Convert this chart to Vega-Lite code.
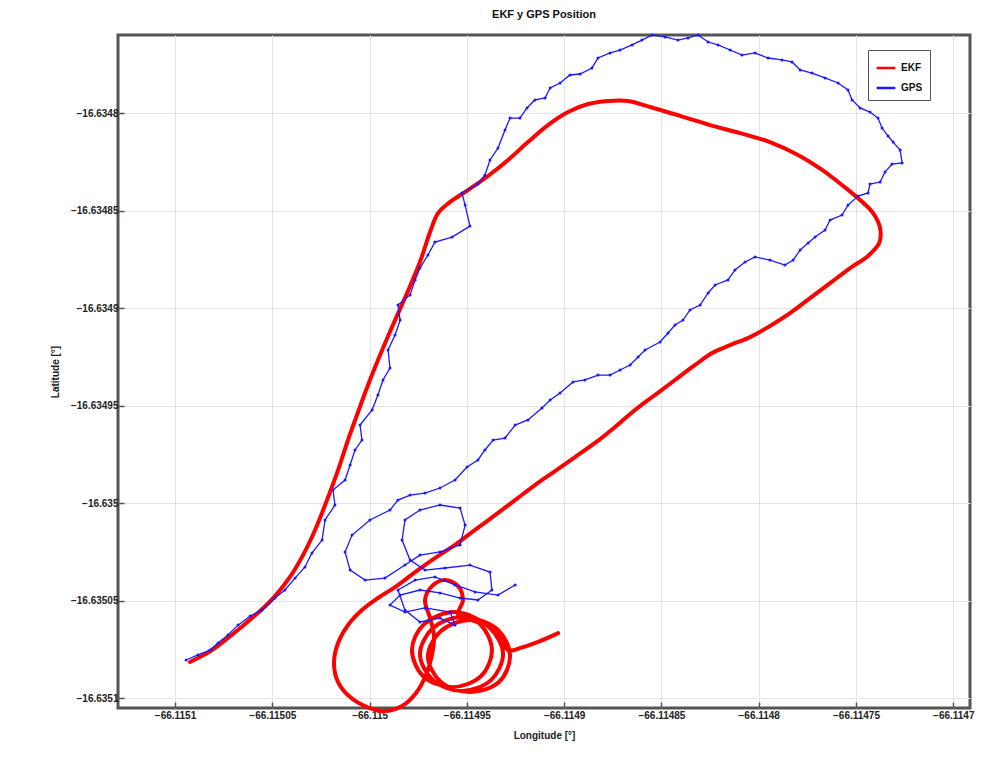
{
  "$schema": "https://vega.github.io/schema/vega-lite/v6.json",
  "width": 852,
  "height": 673,
  "autosize": "none",
  "padding": {"left": 118, "top": 35, "right": 21, "bottom": 63},
  "background": "white",
  "title": {"text": "EKF y GPS Position", "fontSize": 11, "font": "Liberation Sans", "fontWeight": "bold", "color": "#111", "offset": 12},
  "config": {
    "view": {"stroke": "#555", "strokeWidth": 3},
    "axis": {"domain": false, "gridColor": "#e3e3e3", "gridWidth": 1, "tickColor": "#555", "tickSize": -6, "tickWidth": 1.5,
      "labelFont": "Liberation Sans", "labelFontSize": 10, "labelFontWeight": "bold", "labelColor": "#222",
      "titleFont": "Liberation Sans", "titleFontSize": 10, "titleFontWeight": "bold", "titleColor": "#222"}
  },
  "data": {"values": [
    {"s":"EKF","i":1,"lon":-66.1150923,"lat":-16.6350815},
    {"s":"EKF","i":2,"lon":-66.1150872,"lat":-16.6350790},
    {"s":"EKF","i":3,"lon":-66.1150810,"lat":-16.6350754},
    {"s":"EKF","i":4,"lon":-66.1150728,"lat":-16.6350692},
    {"s":"EKF","i":5,"lon":-66.1150640,"lat":-16.6350620},
    {"s":"EKF","i":6,"lon":-66.1150563,"lat":-16.6350554},
    {"s":"EKF","i":7,"lon":-66.1150486,"lat":-16.6350477},
    {"s":"EKF","i":8,"lon":-66.1150409,"lat":-16.6350379},
    {"s":"EKF","i":9,"lon":-66.1150342,"lat":-16.6350267},
    {"s":"EKF","i":10,"lon":-66.1150280,"lat":-16.6350138},
    {"s":"EKF","i":11,"lon":-66.1150219,"lat":-16.6349985},
    {"s":"EKF","i":12,"lon":-66.1150162,"lat":-16.6349831},
    {"s":"EKF","i":13,"lon":-66.1150111,"lat":-16.6349677},
    {"s":"EKF","i":14,"lon":-66.1150059,"lat":-16.6349533},
    {"s":"EKF","i":15,"lon":-66.1150008,"lat":-16.6349395},
    {"s":"EKF","i":16,"lon":-66.1149946,"lat":-16.6349241},
    {"s":"EKF","i":17,"lon":-66.1149880,"lat":-16.6349087},
    {"s":"EKF","i":18,"lon":-66.1149807,"lat":-16.6348923},
    {"s":"EKF","i":19,"lon":-66.1149741,"lat":-16.6348764},
    {"s":"EKF","i":20,"lon":-66.1149689,"lat":-16.6348610},
    {"s":"EKF","i":21,"lon":-66.1149648,"lat":-16.6348513},
    {"s":"EKF","i":22,"lon":-66.1149586,"lat":-16.6348456},
    {"s":"EKF","i":23,"lon":-66.1149494,"lat":-16.6348395},
    {"s":"EKF","i":24,"lon":-66.1149391,"lat":-16.6348323},
    {"s":"EKF","i":25,"lon":-66.1149288,"lat":-16.6348241},
    {"s":"EKF","i":26,"lon":-66.1149186,"lat":-16.6348149},
    {"s":"EKF","i":27,"lon":-66.1149083,"lat":-16.6348062},
    {"s":"EKF","i":28,"lon":-66.1148980,"lat":-16.6347995},
    {"s":"EKF","i":29,"lon":-66.1148877,"lat":-16.6347954},
    {"s":"EKF","i":30,"lon":-66.1148774,"lat":-16.6347938},
    {"s":"EKF","i":31,"lon":-66.1148672,"lat":-16.6347938},
    {"s":"EKF","i":32,"lon":-66.1148558,"lat":-16.6347969},
    {"s":"EKF","i":33,"lon":-66.1148404,"lat":-16.6348015},
    {"s":"EKF","i":34,"lon":-66.1148250,"lat":-16.6348062},
    {"s":"EKF","i":35,"lon":-66.1148096,"lat":-16.6348103},
    {"s":"EKF","i":36,"lon":-66.1147942,"lat":-16.6348149},
    {"s":"EKF","i":37,"lon":-66.1147798,"lat":-16.6348215},
    {"s":"EKF","i":38,"lon":-66.1147674,"lat":-16.6348292},
    {"s":"EKF","i":39,"lon":-66.1147566,"lat":-16.6348374},
    {"s":"EKF","i":40,"lon":-66.1147479,"lat":-16.6348446},
    {"s":"EKF","i":41,"lon":-66.1147412,"lat":-16.6348513},
    {"s":"EKF","i":42,"lon":-66.1147376,"lat":-16.6348590},
    {"s":"EKF","i":43,"lon":-66.1147381,"lat":-16.6348667},
    {"s":"EKF","i":44,"lon":-66.1147438,"lat":-16.6348733},
    {"s":"EKF","i":45,"lon":-66.1147530,"lat":-16.6348795},
    {"s":"EKF","i":46,"lon":-66.1147633,"lat":-16.6348872},
    {"s":"EKF","i":47,"lon":-66.1147736,"lat":-16.6348949},
    {"s":"EKF","i":48,"lon":-66.1147839,"lat":-16.6349026},
    {"s":"EKF","i":49,"lon":-66.1147942,"lat":-16.6349092},
    {"s":"EKF","i":50,"lon":-66.1148044,"lat":-16.6349149},
    {"s":"EKF","i":51,"lon":-66.1148147,"lat":-16.6349190},
    {"s":"EKF","i":52,"lon":-66.1148240,"lat":-16.6349231},
    {"s":"EKF","i":53,"lon":-66.1148327,"lat":-16.6349292},
    {"s":"EKF","i":54,"lon":-66.1148430,"lat":-16.6349369},
    {"s":"EKF","i":55,"lon":-66.1148533,"lat":-16.6349446},
    {"s":"EKF","i":56,"lon":-66.1148636,"lat":-16.6349523},
    {"s":"EKF","i":57,"lon":-66.1148738,"lat":-16.6349610},
    {"s":"EKF","i":58,"lon":-66.1148841,"lat":-16.6349692},
    {"s":"EKF","i":59,"lon":-66.1148944,"lat":-16.6349764},
    {"s":"EKF","i":60,"lon":-66.1149047,"lat":-16.6349836},
    {"s":"EKF","i":61,"lon":-66.1149150,"lat":-16.6349908},
    {"s":"EKF","i":62,"lon":-66.1149252,"lat":-16.6349985},
    {"s":"EKF","i":63,"lon":-66.1149355,"lat":-16.6350062},
    {"s":"EKF","i":64,"lon":-66.1149458,"lat":-16.6350138},
    {"s":"EKF","i":65,"lon":-66.1149561,"lat":-16.6350215},
    {"s":"EKF","i":66,"lon":-66.1149664,"lat":-16.6350282},
    {"s":"EKF","i":67,"lon":-66.1149766,"lat":-16.6350354},
    {"s":"EKF","i":68,"lon":-66.1149869,"lat":-16.6350431},
    {"s":"EKF","i":69,"lon":-66.1149957,"lat":-16.6350487},
    {"s":"EKF","i":70,"lon":-66.1150039,"lat":-16.6350549},
    {"s":"EKF","i":71,"lon":-66.1150111,"lat":-16.6350626},
    {"s":"EKF","i":72,"lon":-66.1150162,"lat":-16.6350718},
    {"s":"EKF","i":73,"lon":-66.1150183,"lat":-16.6350820},
    {"s":"EKF","i":74,"lon":-66.1150162,"lat":-16.6350918},
    {"s":"EKF","i":75,"lon":-66.1150100,"lat":-16.6350995},
    {"s":"EKF","i":76,"lon":-66.1150013,"lat":-16.6351046},
    {"s":"EKF","i":77,"lon":-66.1149921,"lat":-16.6351067},
    {"s":"EKF","i":78,"lon":-66.1149833,"lat":-16.6351041},
    {"s":"EKF","i":79,"lon":-66.1149761,"lat":-16.6350974},
    {"s":"EKF","i":80,"lon":-66.1149710,"lat":-16.6350882},
    {"s":"EKF","i":81,"lon":-66.1149679,"lat":-16.6350779},
    {"s":"EKF","i":82,"lon":-66.1149669,"lat":-16.6350677},
    {"s":"EKF","i":83,"lon":-66.1149689,"lat":-16.6350590},
    {"s":"EKF","i":84,"lon":-66.1149715,"lat":-16.6350497},
    {"s":"EKF","i":85,"lon":-66.1149679,"lat":-16.6350426},
    {"s":"EKF","i":86,"lon":-66.1149612,"lat":-16.6350395},
    {"s":"EKF","i":87,"lon":-66.1149545,"lat":-16.6350426},
    {"s":"EKF","i":88,"lon":-66.1149520,"lat":-16.6350497},
    {"s":"EKF","i":89,"lon":-66.1149545,"lat":-16.6350574},
    {"s":"EKF","i":90,"lon":-66.1149432,"lat":-16.6350620},
    {"s":"EKF","i":91,"lon":-66.1149371,"lat":-16.6350754},
    {"s":"EKF","i":92,"lon":-66.1149427,"lat":-16.6350887},
    {"s":"EKF","i":93,"lon":-66.1149576,"lat":-16.6350944},
    {"s":"EKF","i":94,"lon":-66.1149725,"lat":-16.6350887},
    {"s":"EKF","i":95,"lon":-66.1149782,"lat":-16.6350754},
    {"s":"EKF","i":96,"lon":-66.1149725,"lat":-16.6350626},
    {"s":"EKF","i":97,"lon":-66.1149561,"lat":-16.6350559},
    {"s":"EKF","i":98,"lon":-66.1149381,"lat":-16.6350641},
    {"s":"EKF","i":99,"lon":-66.1149314,"lat":-16.6350774},
    {"s":"EKF","i":100,"lon":-66.1149376,"lat":-16.6350908},
    {"s":"EKF","i":101,"lon":-66.1149525,"lat":-16.6350964},
    {"s":"EKF","i":102,"lon":-66.1149674,"lat":-16.6350908},
    {"s":"EKF","i":103,"lon":-66.1149741,"lat":-16.6350774},
    {"s":"EKF","i":104,"lon":-66.1149674,"lat":-16.6350641},
    {"s":"EKF","i":105,"lon":-66.1149525,"lat":-16.6350585},
    {"s":"EKF","i":106,"lon":-66.1149340,"lat":-16.6350651},
    {"s":"EKF","i":107,"lon":-66.1149278,"lat":-16.6350785},
    {"s":"EKF","i":108,"lon":-66.1149335,"lat":-16.6350918},
    {"s":"EKF","i":109,"lon":-66.1149484,"lat":-16.6350969},
    {"s":"EKF","i":110,"lon":-66.1149633,"lat":-16.6350918},
    {"s":"EKF","i":111,"lon":-66.1149700,"lat":-16.6350785},
    {"s":"EKF","i":112,"lon":-66.1149633,"lat":-16.6350656},
    {"s":"EKF","i":113,"lon":-66.1149484,"lat":-16.6350600},
    {"s":"EKF","i":114,"lon":-66.1149350,"lat":-16.6350651},
    {"s":"EKF","i":115,"lon":-66.1149288,"lat":-16.6350754},
    {"s":"EKF","i":116,"lon":-66.1149216,"lat":-16.6350740},
    {"s":"EKF","i":117,"lon":-66.1149124,"lat":-16.6350708},
    {"s":"EKF","i":118,"lon":-66.1149031,"lat":-16.6350667},
    {"s":"GPS","i":1,"lon":-66.1150943,"lat":-16.6350805},
    {"s":"GPS","i":2,"lon":-66.1150882,"lat":-16.6350779},
    {"s":"GPS","i":3,"lon":-66.1150820,"lat":-16.6350754},
    {"s":"GPS","i":4,"lon":-66.1150779,"lat":-16.6350718},
    {"s":"GPS","i":5,"lon":-66.1150728,"lat":-16.6350677},
    {"s":"GPS","i":6,"lon":-66.1150676,"lat":-16.6350626},
    {"s":"GPS","i":7,"lon":-66.1150614,"lat":-16.6350579},
    {"s":"GPS","i":8,"lon":-66.1150553,"lat":-16.6350549},
    {"s":"GPS","i":9,"lon":-66.1150486,"lat":-16.6350487},
    {"s":"GPS","i":10,"lon":-66.1150435,"lat":-16.6350446},
    {"s":"GPS","i":11,"lon":-66.1150383,"lat":-16.6350385},
    {"s":"GPS","i":12,"lon":-66.1150332,"lat":-16.6350328},
    {"s":"GPS","i":13,"lon":-66.1150296,"lat":-16.6350256},
    {"s":"GPS","i":14,"lon":-66.1150244,"lat":-16.6350190},
    {"s":"GPS","i":15,"lon":-66.1150229,"lat":-16.6350087},
    {"s":"GPS","i":16,"lon":-66.1150178,"lat":-16.6350010},
    {"s":"GPS","i":17,"lon":-66.1150188,"lat":-16.6349933},
    {"s":"GPS","i":18,"lon":-66.1150126,"lat":-16.6349882},
    {"s":"GPS","i":19,"lon":-66.1150100,"lat":-16.6349805},
    {"s":"GPS","i":20,"lon":-66.1150075,"lat":-16.6349728},
    {"s":"GPS","i":21,"lon":-66.1150039,"lat":-16.6349677},
    {"s":"GPS","i":22,"lon":-66.1150049,"lat":-16.6349600},
    {"s":"GPS","i":23,"lon":-66.1149987,"lat":-16.6349523},
    {"s":"GPS","i":24,"lon":-66.1149957,"lat":-16.6349446},
    {"s":"GPS","i":25,"lon":-66.1149931,"lat":-16.6349369},
    {"s":"GPS","i":26,"lon":-66.1149895,"lat":-16.6349308},
    {"s":"GPS","i":27,"lon":-66.1149905,"lat":-16.6349215},
    {"s":"GPS","i":28,"lon":-66.1149869,"lat":-16.6349138},
    {"s":"GPS","i":29,"lon":-66.1149843,"lat":-16.6349062},
    {"s":"GPS","i":30,"lon":-66.1149854,"lat":-16.6348985},
    {"s":"GPS","i":31,"lon":-66.1149792,"lat":-16.6348933},
    {"s":"GPS","i":32,"lon":-66.1149766,"lat":-16.6348856},
    {"s":"GPS","i":33,"lon":-66.1149741,"lat":-16.6348795},
    {"s":"GPS","i":34,"lon":-66.1149700,"lat":-16.6348728},
    {"s":"GPS","i":35,"lon":-66.1149664,"lat":-16.6348662},
    {"s":"GPS","i":36,"lon":-66.1149576,"lat":-16.6348636},
    {"s":"GPS","i":37,"lon":-66.1149484,"lat":-16.6348580},
    {"s":"GPS","i":38,"lon":-66.1149509,"lat":-16.6348472},
    {"s":"GPS","i":39,"lon":-66.1149525,"lat":-16.6348410},
    {"s":"GPS","i":40,"lon":-66.1149443,"lat":-16.6348364},
    {"s":"GPS","i":41,"lon":-66.1149407,"lat":-16.6348318},
    {"s":"GPS","i":42,"lon":-66.1149381,"lat":-16.6348241},
    {"s":"GPS","i":43,"lon":-66.1149340,"lat":-16.6348180},
    {"s":"GPS","i":44,"lon":-66.1149304,"lat":-16.6348087},
    {"s":"GPS","i":45,"lon":-66.1149278,"lat":-16.6348026},
    {"s":"GPS","i":46,"lon":-66.1149227,"lat":-16.6348026},
    {"s":"GPS","i":47,"lon":-66.1149191,"lat":-16.6347974},
    {"s":"GPS","i":48,"lon":-66.1149150,"lat":-16.6347933},
    {"s":"GPS","i":49,"lon":-66.1149098,"lat":-16.6347923},
    {"s":"GPS","i":50,"lon":-66.1149072,"lat":-16.6347872},
    {"s":"GPS","i":51,"lon":-66.1149021,"lat":-16.6347846},
    {"s":"GPS","i":52,"lon":-66.1148970,"lat":-16.6347805},
    {"s":"GPS","i":53,"lon":-66.1148918,"lat":-16.6347800},
    {"s":"GPS","i":54,"lon":-66.1148857,"lat":-16.6347769},
    {"s":"GPS","i":55,"lon":-66.1148826,"lat":-16.6347718},
    {"s":"GPS","i":56,"lon":-66.1148764,"lat":-16.6347692},
    {"s":"GPS","i":57,"lon":-66.1148713,"lat":-16.6347677},
    {"s":"GPS","i":58,"lon":-66.1148651,"lat":-16.6347651},
    {"s":"GPS","i":59,"lon":-66.1148600,"lat":-16.6347626},
    {"s":"GPS","i":60,"lon":-66.1148548,"lat":-16.6347600},
    {"s":"GPS","i":61,"lon":-66.1148481,"lat":-16.6347610},
    {"s":"GPS","i":62,"lon":-66.1148415,"lat":-16.6347626},
    {"s":"GPS","i":63,"lon":-66.1148363,"lat":-16.6347615},
    {"s":"GPS","i":64,"lon":-66.1148312,"lat":-16.6347600},
    {"s":"GPS","i":65,"lon":-66.1148260,"lat":-16.6347636},
    {"s":"GPS","i":66,"lon":-66.1148209,"lat":-16.6347651},
    {"s":"GPS","i":67,"lon":-66.1148147,"lat":-16.6347677},
    {"s":"GPS","i":68,"lon":-66.1148086,"lat":-16.6347703},
    {"s":"GPS","i":69,"lon":-66.1148019,"lat":-16.6347692},
    {"s":"GPS","i":70,"lon":-66.1147952,"lat":-16.6347718},
    {"s":"GPS","i":71,"lon":-66.1147880,"lat":-16.6347728},
    {"s":"GPS","i":72,"lon":-66.1147829,"lat":-16.6347738},
    {"s":"GPS","i":73,"lon":-66.1147787,"lat":-16.6347779},
    {"s":"GPS","i":74,"lon":-66.1147726,"lat":-16.6347795},
    {"s":"GPS","i":75,"lon":-66.1147659,"lat":-16.6347820},
    {"s":"GPS","i":76,"lon":-66.1147592,"lat":-16.6347846},
    {"s":"GPS","i":77,"lon":-66.1147541,"lat":-16.6347882},
    {"s":"GPS","i":78,"lon":-66.1147520,"lat":-16.6347933},
    {"s":"GPS","i":79,"lon":-66.1147479,"lat":-16.6347974},
    {"s":"GPS","i":80,"lon":-66.1147428,"lat":-16.6347995},
    {"s":"GPS","i":81,"lon":-66.1147387,"lat":-16.6348026},
    {"s":"GPS","i":82,"lon":-66.1147366,"lat":-16.6348077},
    {"s":"GPS","i":83,"lon":-66.1147335,"lat":-16.6348118},
    {"s":"GPS","i":84,"lon":-66.1147309,"lat":-16.6348149},
    {"s":"GPS","i":85,"lon":-66.1147273,"lat":-16.6348190},
    {"s":"GPS","i":86,"lon":-66.1147263,"lat":-16.6348256},
    {"s":"GPS","i":87,"lon":-66.1147315,"lat":-16.6348262},
    {"s":"GPS","i":88,"lon":-66.1147351,"lat":-16.6348303},
    {"s":"GPS","i":89,"lon":-66.1147376,"lat":-16.6348354},
    {"s":"GPS","i":90,"lon":-66.1147428,"lat":-16.6348364},
    {"s":"GPS","i":91,"lon":-66.1147438,"lat":-16.6348410},
    {"s":"GPS","i":92,"lon":-66.1147489,"lat":-16.6348426},
    {"s":"GPS","i":93,"lon":-66.1147541,"lat":-16.6348472},
    {"s":"GPS","i":94,"lon":-66.1147572,"lat":-16.6348523},
    {"s":"GPS","i":95,"lon":-66.1147633,"lat":-16.6348549},
    {"s":"GPS","i":96,"lon":-66.1147659,"lat":-16.6348600},
    {"s":"GPS","i":97,"lon":-66.1147710,"lat":-16.6348636},
    {"s":"GPS","i":98,"lon":-66.1147746,"lat":-16.6348667},
    {"s":"GPS","i":99,"lon":-66.1147787,"lat":-16.6348703},
    {"s":"GPS","i":100,"lon":-66.1147823,"lat":-16.6348754},
    {"s":"GPS","i":101,"lon":-66.1147865,"lat":-16.6348780},
    {"s":"GPS","i":102,"lon":-66.1147942,"lat":-16.6348754},
    {"s":"GPS","i":103,"lon":-66.1148019,"lat":-16.6348738},
    {"s":"GPS","i":104,"lon":-66.1148070,"lat":-16.6348764},
    {"s":"GPS","i":105,"lon":-66.1148122,"lat":-16.6348805},
    {"s":"GPS","i":106,"lon":-66.1148158,"lat":-16.6348856},
    {"s":"GPS","i":107,"lon":-66.1148224,"lat":-16.6348882},
    {"s":"GPS","i":108,"lon":-66.1148260,"lat":-16.6348923},
    {"s":"GPS","i":109,"lon":-66.1148301,"lat":-16.6348985},
    {"s":"GPS","i":110,"lon":-66.1148353,"lat":-16.6349010},
    {"s":"GPS","i":111,"lon":-66.1148389,"lat":-16.6349062},
    {"s":"GPS","i":112,"lon":-66.1148430,"lat":-16.6349087},
    {"s":"GPS","i":113,"lon":-66.1148466,"lat":-16.6349128},
    {"s":"GPS","i":114,"lon":-66.1148507,"lat":-16.6349174},
    {"s":"GPS","i":115,"lon":-66.1148584,"lat":-16.6349215},
    {"s":"GPS","i":116,"lon":-66.1148620,"lat":-16.6349251},
    {"s":"GPS","i":117,"lon":-66.1148661,"lat":-16.6349292},
    {"s":"GPS","i":118,"lon":-66.1148713,"lat":-16.6349318},
    {"s":"GPS","i":119,"lon":-66.1148764,"lat":-16.6349344},
    {"s":"GPS","i":120,"lon":-66.1148826,"lat":-16.6349344},
    {"s":"GPS","i":121,"lon":-66.1148893,"lat":-16.6349369},
    {"s":"GPS","i":122,"lon":-66.1148954,"lat":-16.6349379},
    {"s":"GPS","i":123,"lon":-66.1149021,"lat":-16.6349436},
    {"s":"GPS","i":124,"lon":-66.1149072,"lat":-16.6349472},
    {"s":"GPS","i":125,"lon":-66.1149114,"lat":-16.6349513},
    {"s":"GPS","i":126,"lon":-66.1149186,"lat":-16.6349574},
    {"s":"GPS","i":127,"lon":-66.1149252,"lat":-16.6349600},
    {"s":"GPS","i":128,"lon":-66.1149304,"lat":-16.6349667},
    {"s":"GPS","i":129,"lon":-66.1149365,"lat":-16.6349677},
    {"s":"GPS","i":130,"lon":-66.1149407,"lat":-16.6349728},
    {"s":"GPS","i":131,"lon":-66.1149443,"lat":-16.6349779},
    {"s":"GPS","i":132,"lon":-66.1149499,"lat":-16.6349815},
    {"s":"GPS","i":133,"lon":-66.1149561,"lat":-16.6349882},
    {"s":"GPS","i":134,"lon":-66.1149638,"lat":-16.6349923},
    {"s":"GPS","i":135,"lon":-66.1149715,"lat":-16.6349949},
    {"s":"GPS","i":136,"lon":-66.1149792,"lat":-16.6349959},
    {"s":"GPS","i":137,"lon":-66.1149854,"lat":-16.6349985},
    {"s":"GPS","i":138,"lon":-66.1149895,"lat":-16.6350036},
    {"s":"GPS","i":139,"lon":-66.1149998,"lat":-16.6350087},
    {"s":"GPS","i":140,"lon":-66.1150090,"lat":-16.6350164},
    {"s":"GPS","i":141,"lon":-66.1150126,"lat":-16.6350251},
    {"s":"GPS","i":142,"lon":-66.1150100,"lat":-16.6350344},
    {"s":"GPS","i":143,"lon":-66.1150023,"lat":-16.6350395},
    {"s":"GPS","i":144,"lon":-66.1149921,"lat":-16.6350385},
    {"s":"GPS","i":145,"lon":-66.1149818,"lat":-16.6350318},
    {"s":"GPS","i":146,"lon":-66.1149741,"lat":-16.6350267},
    {"s":"GPS","i":147,"lon":-66.1149638,"lat":-16.6350251},
    {"s":"GPS","i":148,"lon":-66.1149535,"lat":-16.6350215},
    {"s":"GPS","i":149,"lon":-66.1149509,"lat":-16.6350113},
    {"s":"GPS","i":150,"lon":-66.1149535,"lat":-16.6350026},
    {"s":"GPS","i":151,"lon":-66.1149638,"lat":-16.6350010},
    {"s":"GPS","i":152,"lon":-66.1149741,"lat":-16.6350036},
    {"s":"GPS","i":153,"lon":-66.1149818,"lat":-16.6350087},
    {"s":"GPS","i":154,"lon":-66.1149833,"lat":-16.6350190},
    {"s":"GPS","i":155,"lon":-66.1149792,"lat":-16.6350292},
    {"s":"GPS","i":156,"lon":-66.1149715,"lat":-16.6350344},
    {"s":"GPS","i":157,"lon":-66.1149612,"lat":-16.6350333},
    {"s":"GPS","i":158,"lon":-66.1149484,"lat":-16.6350318},
    {"s":"GPS","i":159,"lon":-66.1149381,"lat":-16.6350354},
    {"s":"GPS","i":160,"lon":-66.1149371,"lat":-16.6350446},
    {"s":"GPS","i":161,"lon":-66.1149443,"lat":-16.6350497},
    {"s":"GPS","i":162,"lon":-66.1149535,"lat":-16.6350487},
    {"s":"GPS","i":163,"lon":-66.1149638,"lat":-16.6350461},
    {"s":"GPS","i":164,"lon":-66.1149741,"lat":-16.6350446},
    {"s":"GPS","i":165,"lon":-66.1149843,"lat":-16.6350472},
    {"s":"GPS","i":166,"lon":-66.1149895,"lat":-16.6350523},
    {"s":"GPS","i":167,"lon":-66.1149818,"lat":-16.6350559},
    {"s":"GPS","i":168,"lon":-66.1149715,"lat":-16.6350538},
    {"s":"GPS","i":169,"lon":-66.1149586,"lat":-16.6350559},
    {"s":"GPS","i":170,"lon":-66.1149561,"lat":-16.6350626},
    {"s":"GPS","i":171,"lon":-66.1149638,"lat":-16.6350590},
    {"s":"GPS","i":172,"lon":-66.1149741,"lat":-16.6350610},
    {"s":"GPS","i":173,"lon":-66.1149818,"lat":-16.6350549},
    {"s":"GPS","i":174,"lon":-66.1149854,"lat":-16.6350446},
    {"s":"GPS","i":175,"lon":-66.1149766,"lat":-16.6350395},
    {"s":"GPS","i":176,"lon":-66.1149664,"lat":-16.6350379},
    {"s":"GPS","i":177,"lon":-66.1149561,"lat":-16.6350420},
    {"s":"GPS","i":178,"lon":-66.1149458,"lat":-16.6350456},
    {"s":"GPS","i":179,"lon":-66.1149340,"lat":-16.6350472},
    {"s":"GPS","i":180,"lon":-66.1149252,"lat":-16.6350420}
  ]},
  "encoding": {
    "x": {"field": "lon", "type": "quantitative", "title": "Longitude [°]",
      "scale": {"domain": [-66.1151293, -66.1146914], "zero": false, "nice": false},
      "axis": {"values": [-66.1151, -66.11505, -66.115, -66.11495, -66.1149, -66.11485, -66.1148, -66.11475, -66.1147], "format": ".5~f", "labelPadding": 8, "titlePadding": 10, "labelFlush": false}},
    "y": {"field": "lat", "type": "quantitative", "title": "Latitude [°]",
      "scale": {"domain": [-16.6351051, -16.63476], "zero": false, "nice": false},
      "axis": {"values": [-16.6351, -16.63505, -16.635, -16.63495, -16.6349, -16.63485, -16.6348], "format": ".5~f", "labelPadding": 6, "titlePadding": 10, "labelFlush": false}},
    "order": {"field": "i", "type": "quantitative"},
    "color": {"field": "s", "type": "nominal", "title": null,
      "scale": {"domain": ["EKF", "GPS"], "range": ["#ff0000", "#1a1aff"]},
      "legend": {"orient": "none", "legendX": 750, "legendY": 15, "symbolType": "stroke", "symbolStrokeWidth": 2.5, "symbolSize": 350,
        "labelFont": "Liberation Sans", "labelFontSize": 10, "labelFontWeight": "bold", "labelColor": "#111",
        "padding": 7, "strokeColor": "#555", "fillColor": "white", "rowPadding": 4}}
  },
  "layer": [
    {"transform": [{"filter": "datum.s == 'EKF'"}],
      "mark": {"type": "line", "strokeWidth": 4, "interpolate": "catmull-rom", "strokeJoin": "round", "strokeCap": "round"}},
    {"transform": [{"filter": "datum.s == 'GPS'"}],
      "mark": {"type": "line", "strokeWidth": 1.3, "point": {"filled": true, "size": 9, "color": "#1a1aff"}}}
  ]
}
